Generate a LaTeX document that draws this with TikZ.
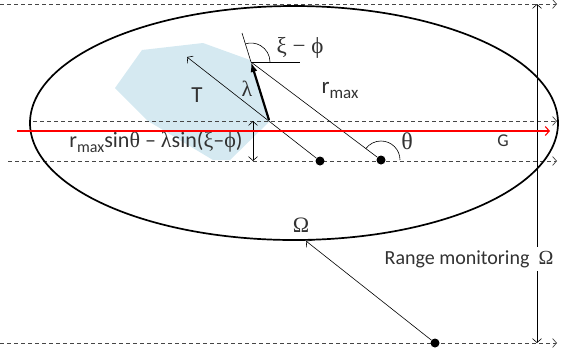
\documentclass[tikz,border=0pt]{standalone}
\usepackage{fontspec}
\setmainfont{Carlito}
\newfontfamily\grk{Liberation Serif}
\usetikzlibrary{arrows.meta,positioning}
\definecolor{regionblue}{RGB}{213,233,241}
\definecolor{guidegray}{RGB}{70,70,70}
\definecolor{textgray}{RGB}{50,50,50}
\definecolor{groundred}{RGB}{255,0,0}

\begin{document}
\begin{tikzpicture}[x=1pt, y=-1pt,
  guide/.style={draw=guidegray, dash pattern=on 4pt off 3pt, line width=0.7pt, ->},
  ray/.style={draw=black, line width=0.6pt},
  dot/.style={circle, fill=black, inner sep=0pt, minimum size=9pt},
  lbl/.style={font=\fontsize{20}{24}\selectfont, text=textgray, inner sep=1pt},
  >={Straight Barb[length=4pt,width=9pt]}
]
\useasboundingbox (0,0) rectangle (561,360);

% target region
\fill[regionblue] (115,88) -- (142,50) -- (203,43) -- (250,60) -- (270,121)
  -- (230,160) -- (213,160) -- (148,121) -- cycle;

% level lines
\coordinate (topL) at (0,4);       \coordinate (topR) at (557,4);
\coordinate (midL) at (33,121);    \coordinate (midR) at (557,121);
\coordinate (lowL) at (8,161);     \coordinate (lowR) at (557,161);
\coordinate (botL) at (0,343);     \coordinate (botR) at (557,343);
\draw[guide] (topL) -- (topR);
\draw[guide] (midL) -- (midR);
\draw[guide] (lowL) -- (lowR);
\draw[guide] (botL) -- (botR);

% monitoring range
\draw[line width=1.7pt] (294,123) ellipse[x radius=264pt, y radius=117pt];

% points
\node[dot] (dotA) at (320,161) {};
\node[dot] (dotB) at (381,160) {};
\node[dot] (dotC) at (435,343) {};

\coordinate (lamBase) at (269,120);
\coordinate (lamTip) at (251,62);
\coordinate (lamExt) at (242,33);
\coordinate (horizEnd) at (300,62);
\coordinate (tHead) at (187,57);
\coordinate (omegaHead) at (306,241);

\draw[ray, ->] (dotA) -- (tHead);
\draw[ray] (dotB) -- (lamTip);
\draw[ray] (lamTip) -- (lamExt);
\draw[ray] (lamTip) -- (horizEnd);
\draw[ray, ->] (dotC) -- (omegaHead);
\draw[line width=2.2pt, -{Latex[length=10pt,width=7pt]}] (lamBase) -- (lamTip);

% angles
\draw[ray] ([xshift=19pt]lamTip) arc[start angle=0, end angle=107, radius=19pt];
\draw[ray] ([xshift=19pt]dotB.center) arc[start angle=0, end angle=143, radius=19pt];

% offset
\coordinate (dimTop) at (253,121);
\coordinate (dimBot) at (253,161);
\draw[ray, <->] (dimTop) -- (dimBot);

% range Omega
\coordinate (monTop) at (537,4);
\coordinate (monBot) at (537,343);
\draw[ray, <->] (monTop) -- (monBot);
\node[lbl, fill=white, inner sep=3pt] (monitor) at (469,259) {Range monitoring\ \ {\grk Ω}};

% labels
\node[lbl, font=\fontsize{23}{24}\selectfont] (xiphi) at (300,48) {\grk ξ − ϕ};
\node[lbl, font=\fontsize{23}{24}\selectfont] (rmax) at (340,90) {r\raisebox{-0.45ex}{\fontsize{17}{17}\selectfont max}};
\node[lbl, font=\fontsize{22}{24}\selectfont] (lam) at (247,89) {\grk λ};
\node[lbl, font=\fontsize{23}{24}\selectfont] (tLbl) at (197,95) {T};
\node[lbl, font=\fontsize{24}{24}\selectfont] (theta) at (407,141) {\grk θ};
\node[lbl, font=\fontsize{18}{20}\selectfont] (gLbl) at (503,141) {G};
\node[lbl, font=\fontsize{22}{24}\selectfont] (omegaLbl) at (301,225) {\grk Ω};
\node[lbl, font=\fontsize{22}{24}\selectfont] (offset) at (156,142)
  {r\raisebox{-0.45ex}{\fontsize{16}{16}\selectfont max}sin{\grk θ} – {\grk λ}sin({\grk ξ}–{\grk ϕ})};

% ground line
\coordinate (redL) at (17,131);
\coordinate (redR) at (550,131);
\draw[draw=groundred, line width=1.1pt, ->] (redL) -- (redR);
\end{tikzpicture}
\end{document}
